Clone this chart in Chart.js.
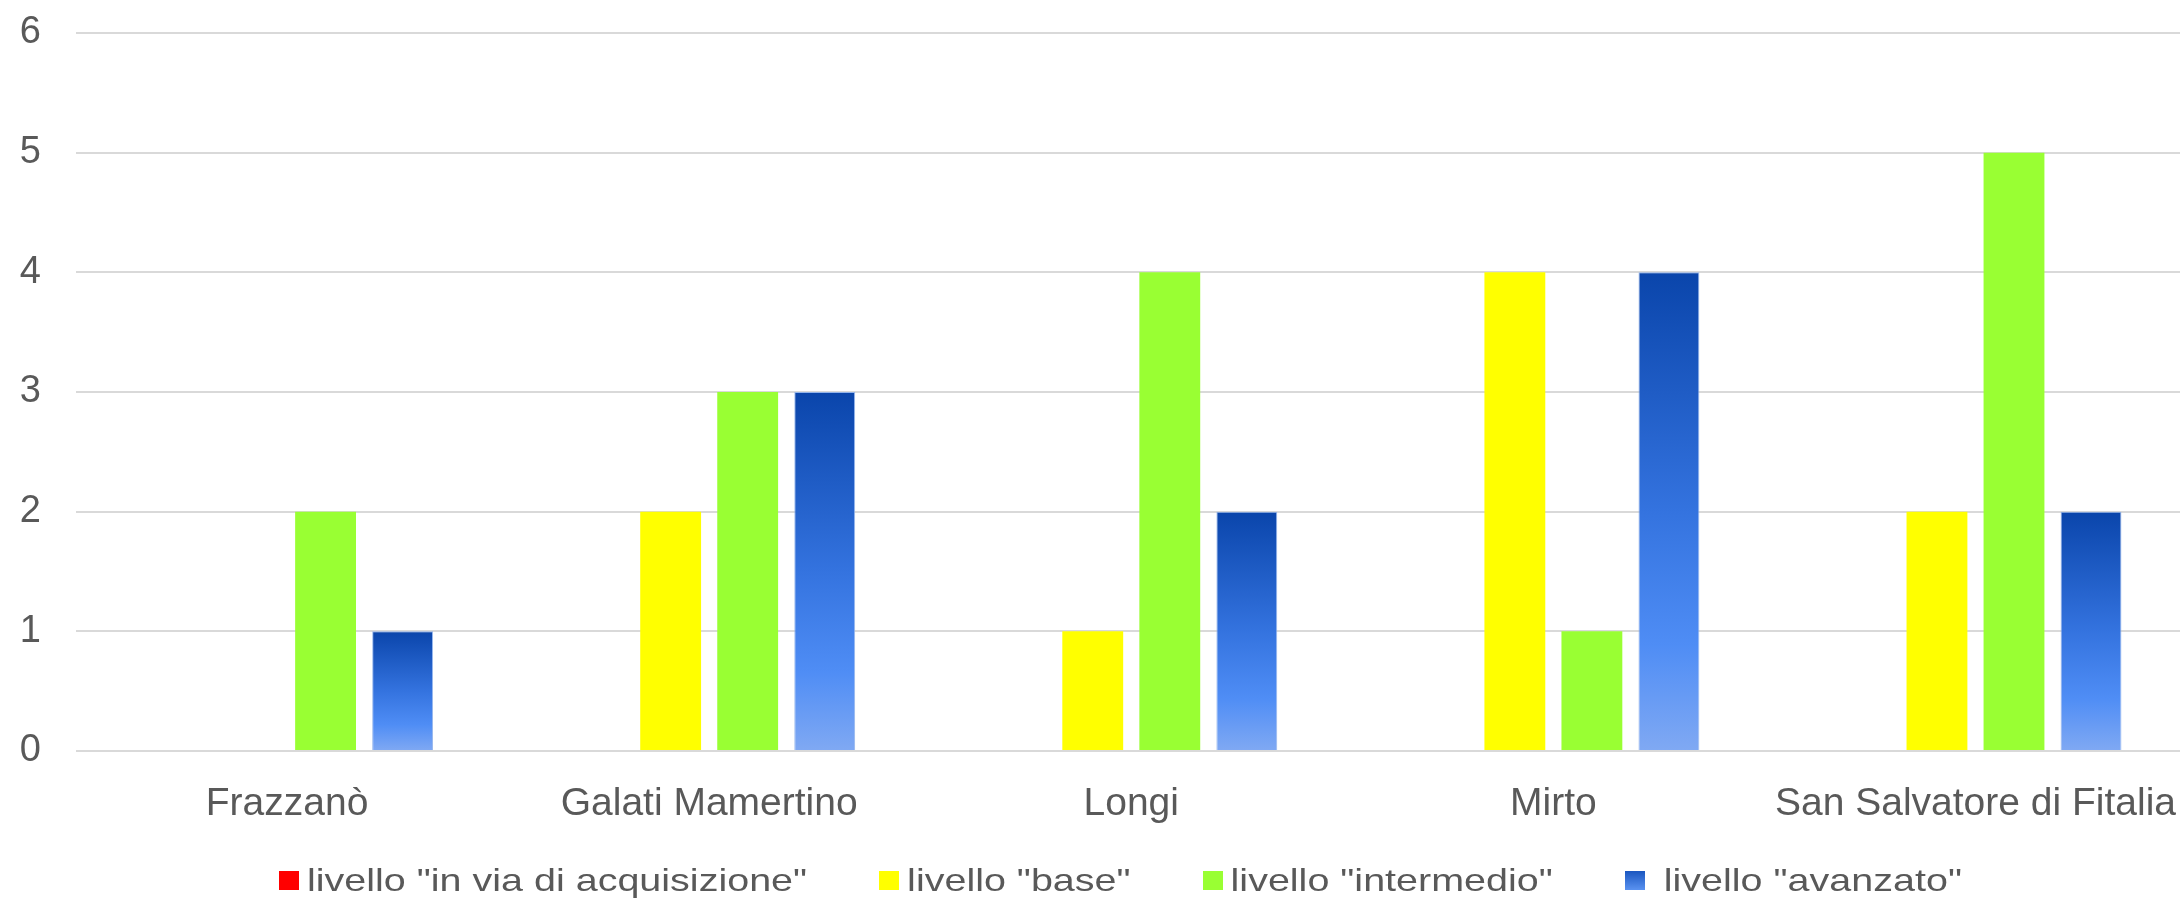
<!DOCTYPE html>
<html>
<head>
<meta charset="utf-8">
<script src="https://cdn.jsdelivr.net/npm/chart.js@4"></script>
<style>
  html, body { margin: 0; padding: 0; background: #fff; overflow: hidden; }
  #wrap { position: relative; width: 2198px; height: 902px; }
  #legend {
    position: absolute; left: 279px; top: 863px;
    display: flex; align-items: center; gap: 72px;
    font-family: "Liberation Sans", Arial, sans-serif; font-size: 39.5px; color: #595959;
    white-space: pre;
  }
  .item { display: flex; align-items: center; }
  .box { width: 20px; height: 19px; margin-right: 8px; }
  .txt { display: inline-block; transform: scaleY(0.8); line-height: 34px; }
</style>
</head>
<body>
<div id="wrap">
  <canvas id="chart"></canvas>
  <div id="legend"></div>
</div>
<script>
// Data
const comuni = ['Frazzanò', 'Galati Mamertino', 'Longi', 'Mirto', 'San Salvatore di Fitalia'];
const livelli = ['livello "in via di acquisizione"', 'livello "base"', 'livello "intermedio"', ' livello "avanzato"'];
const inVia      = [0, 0, 0, 0, 0];
const base       = [0, 2, 1, 4, 2];
const intermedio = [2, 3, 4, 1, 5];
const avanzato   = [1, 3, 2, 4, 2];
const yTicks = [0, 1, 2, 3, 4, 5, 6];

const TEXT = '#595959';
const GRID = '#d9d9d9';

// blue bars shade dark (top) to light (bottom), one gradient per bar
function blueGradient(ctx){
  const chart = ctx.chart;
  if (!chart.chartArea || ctx.type !== 'data') return '#3d7ce6';
  const y = chart.scales.y;
  const top = y.getPixelForValue(ctx.raw);
  const bottom = y.getPixelForValue(0);
  if (bottom - top < 1) return '#3d7ce6';
  const g = chart.ctx.createLinearGradient(0, top, 0, bottom);
  g.addColorStop(0, '#0a45ab');
  g.addColorStop(0.5, '#3473df');
  g.addColorStop(0.78, '#4f8df5');
  g.addColorStop(1, '#80a9f3');
  return g;
}

const seriesColors = ['#ff0000', '#ffff00', '#99ff33', blueGradient];
const legendColors = ['#ff0000', '#ffff00', '#99ff33', 'linear-gradient(#1a56c0, #5a92f0)'];

const chart = new Chart(document.getElementById('chart'), {
  type: 'bar',
  data: {
    labels: comuni,
    datasets: [inVia, base, intermedio, avanzato].map((d, i) => ({
      label: livelli[i],
      data: d,
      backgroundColor: seriesColors[i],
      borderWidth: i === 3 ? 1 : 0,
      borderColor: 'rgba(140,175,235,0.9)',
      categoryPercentage: 0.73,
      barPercentage: 0.79
    }))
  },
  options: {
    responsive: true,
    maintainAspectRatio: false,
    animation: false,
    layout: { padding: { top: 33, right: 0, left: 0, bottom: 71 } },
    plugins: { legend: { display: false }, tooltip: { enabled: false } },
    scales: {
      x: {
        grid: { display: false },
        border: { display: false },
        ticks: { color: TEXT, font: { family: '"Liberation Sans", Arial, sans-serif', size: 39 }, padding: 22, maxRotation: 0, autoSkip: false },
        afterFit: s => { s.height = 80; }
      },
      y: {
        min: yTicks[0],
        max: yTicks[yTicks.length - 1],
        afterBuildTicks: s => { s.ticks = yTicks.map(v => ({ value: v })); },
        grid: { color: GRID, lineWidth: 2, drawTicks: false },
        border: { display: false },
        ticks: { color: TEXT, font: { family: '"Liberation Sans", Arial, sans-serif', size: 38 }, padding: 35 },
        afterFit: s => { s.width = 76; s.paddingTop = 0; s.paddingBottom = 0; }
      }
    }
  }
});

// legend below the plot
const legendEl = document.getElementById('legend');
livelli.forEach((name, i) => {
  const item = document.createElement('div');
  item.className = 'item';
  const box = document.createElement('span');
  box.className = 'box';
  box.style.background = legendColors[i];
  const txt = document.createElement('span');
  txt.className = 'txt';
  txt.textContent = name;
  item.appendChild(box);
  item.appendChild(txt);
  legendEl.appendChild(item);
});
</script>
</body>
</html>
